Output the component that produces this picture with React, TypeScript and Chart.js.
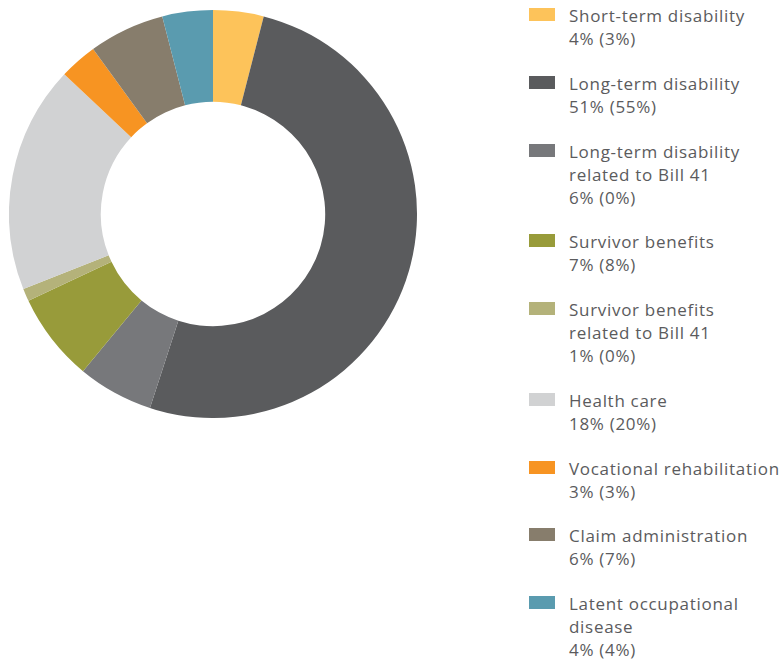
import React, { useEffect, useRef } from "react";
import { Chart, registerables } from "chart.js";

Chart.register(...registerables);

const categories: string[][] = [
  ["Short-term disability"],
  ["Long-term disability"],
  ["Long-term disability", "related to Bill 41"],
  ["Survivor benefits"],
  ["Survivor benefits", "related to Bill 41"],
  ["Health care"],
  ["Vocational rehabilitation"],
  ["Claim administration"],
  ["Latent occupational", "disease"],
];
const currentShare: number[] = [4, 51, 6, 7, 1, 18, 3, 6, 4];
const priorShare: number[] = [3, 55, 0, 8, 0, 20, 3, 7, 4];
const colors: string[] = [
  "#FDC35A",
  "#5A5B5D",
  "#77787B",
  "#989B3A",
  "#B4B27A",
  "#D1D2D3",
  "#F79422",
  "#877D6C",
  "#5A9BAF",
];

const FONT = "'Open Sans', sans-serif";

export default function App() {
  const canvasRef = useRef<HTMLCanvasElement | null>(null);

  useEffect(() => {
    if (!canvasRef.current) return;
    const chart = new Chart(canvasRef.current, {
      type: "doughnut",
      data: {
        labels: categories.map((l) => l.join(" ")),
        datasets: [
          {
            data: currentShare,
            backgroundColor: colors,
            borderWidth: 0,
          },
        ],
      },
      options: {
        animation: false,
        responsive: false,
        maintainAspectRatio: false,
        cutout: "55%",
        layout: { padding: 0 },
        plugins: {
          legend: { display: false },
          tooltip: { enabled: false },
        },
      },
    });
    return () => chart.destroy();
  }, []);

  return (
    <div
      style={{
        position: "fixed",
        left: 0,
        top: 0,
        width: 782,
        height: 663,
        background: "#fff",
        overflow: "hidden",
      }}
    >
      <canvas
        ref={canvasRef}
        width={408}
        height={408}
        style={{ position: "absolute", left: 9, top: 10, width: 408, height: 408 }}
      />
      <div
        style={{
          position: "absolute",
          left: 529,
          top: 4,
          width: 260,
          fontFamily: FONT,
          fontSize: 17,
          letterSpacing: "0.7px",
          lineHeight: "23px",
          color: "#5b5b5d",
        }}
      >
        {categories.map((lines, i) => (
          <div key={i} style={{ position: "relative", marginBottom: 21.75, paddingLeft: 40 }}>
            <span
              style={{
                position: "absolute",
                left: 0,
                top: 4,
                width: 26,
                height: 13,
                background: colors[i],
              }}
            />
            {lines.map((t, j) => (
              <div key={j} style={{ whiteSpace: "nowrap" }}>
                {t}
              </div>
            ))}
            <div style={{ whiteSpace: "nowrap" }}>
              {currentShare[i]}% ({priorShare[i]}%)
            </div>
          </div>
        ))}
      </div>
    </div>
  );
}
